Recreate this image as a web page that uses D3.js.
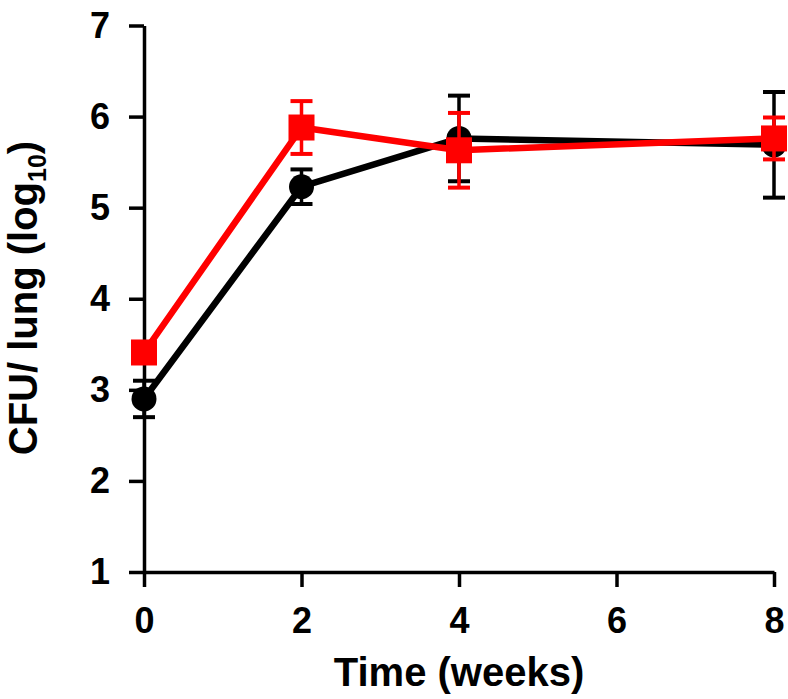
<!DOCTYPE html>
<html lang="en">
    <head>
        <meta charset="utf-8">
        <title>CFU per lung</title>
        <script type="text/javascript" src="https://cdn.jsdelivr.net/npm/d3@7"></script>
        <style type="text/css">
            body { margin: 0; background: #fff; }
            text { font-family: "Liberation Sans", Arial, sans-serif; font-weight: bold; }
        </style>
    </head>
    <body>
        <script type="text/javascript">
        // Data
        var weeks      = [0, 2, 4, 8];
        var blackMean  = [2.90, 5.23, 5.76, 5.69];
        var blackErr   = [0.20, 0.19, 0.47, 0.58];
        var redMean    = [3.41, 5.88, 5.63, 5.76];
        var redErr     = [0.10, 0.29, 0.41, 0.23];
        var xTicks     = [0, 2, 4, 6, 8];
        var yTicks     = [1, 2, 3, 4, 5, 6, 7];

        var svgWidth  = 788;
        var svgHeight = 699;

        var svg = d3.select("body")
            .append("svg")
            .attr("width", svgWidth)
            .attr("height", svgHeight);

        var x = d3.scaleLinear().domain([0, 8]).range([144, 774]);
        var y = d3.scaleLinear().domain([1, 7]).range([572, 25.5]);

        // axes
        var yAxis = svg.append("g")
            .attr("transform", "translate(" + x(0) + ",0)")
            .call(d3.axisLeft(y).tickValues(yTicks).tickFormat(d3.format("d"))
                .tickSize(15).tickSizeOuter(0).tickPadding(19));

        var xAxis = svg.append("g")
            .attr("transform", "translate(0," + y(1) + ")")
            .call(d3.axisBottom(x).tickValues(xTicks).tickFormat(d3.format("d"))
                .tickSize(15).tickSizeOuter(0).tickPadding(20));

        [xAxis, yAxis].forEach(function(g) {
            g.select(".domain").attr("stroke", "#000").attr("stroke-width", 3.5);
            g.selectAll(".tick line").attr("stroke", "#000").attr("stroke-width", 3.5);
            g.selectAll(".tick text")
                .attr("fill", "#000")
                .attr("font-size", "36px")
                .attr("font-family", "'Liberation Sans', Arial, sans-serif")
                .attr("font-weight", "bold");
        });

        // axis titles
        svg.append("text")
            .attr("x", 459)
            .attr("y", 686)
            .attr("text-anchor", "middle")
            .attr("font-size", "40px")
            .text("Time (weeks)");

        var yl = svg.append("text")
            .attr("transform", "translate(37," + 298 + ") rotate(-90)")
            .attr("text-anchor", "middle")
            .attr("font-size", "40px");
        yl.append("tspan").text("CFU/ lung (log");
        yl.append("tspan").attr("font-size", "25px").attr("dy", 9).text("10");
        yl.append("tspan").attr("dy", -9).text(")");

        function drawSeries(mean, err, color, shape) {
            var pts = weeks.map(function(w, i) {
                return { w: w, m: mean[i], e: err[i] };
            });
            var g = svg.append("g");

            // error bars
            g.selectAll("line.err")
                .data(pts)
                .enter()
                .append("line")
                .attr("x1", function(d) { return x(d.w); })
                .attr("x2", function(d) { return x(d.w); })
                .attr("y1", function(d) { return y(d.m + d.e); })
                .attr("y2", function(d) { return y(d.m - d.e); })
                .attr("stroke", color)
                .attr("stroke-width", 3.5);

            [1, -1].forEach(function(s) {
                g.selectAll(null)
                    .data(pts)
                    .enter()
                    .append("line")
                    .attr("x1", function(d) { return x(d.w) - 11; })
                    .attr("x2", function(d) { return x(d.w) + 11; })
                    .attr("y1", function(d) { return y(d.m + s * d.e); })
                    .attr("y2", function(d) { return y(d.m + s * d.e); })
                    .attr("stroke", color)
                    .attr("stroke-width", 4);
            });

            // connecting line
            g.append("path")
                .datum(pts)
                .attr("fill", "none")
                .attr("stroke", color)
                .attr("stroke-width", 6.5)
                .attr("stroke-linejoin", "round")
                .attr("d", d3.line()
                    .x(function(d) { return x(d.w); })
                    .y(function(d) { return y(d.m); }));

            // markers
            if (shape === "circle") {
                g.selectAll("circle")
                    .data(pts)
                    .enter()
                    .append("circle")
                    .attr("cx", function(d) { return x(d.w); })
                    .attr("cy", function(d) { return y(d.m); })
                    .attr("r", 12.5)
                    .attr("fill", color);
            } else {
                g.selectAll("rect")
                    .data(pts)
                    .enter()
                    .append("rect")
                    .attr("x", function(d) { return x(d.w) - 13; })
                    .attr("y", function(d) { return y(d.m) - 13; })
                    .attr("width", 26)
                    .attr("height", 26)
                    .attr("fill", color);
            }
        }

        drawSeries(blackMean, blackErr, "#000000", "circle");
        drawSeries(redMean, redErr, "#ff0000", "square");
        </script>
    </body>
</html>
